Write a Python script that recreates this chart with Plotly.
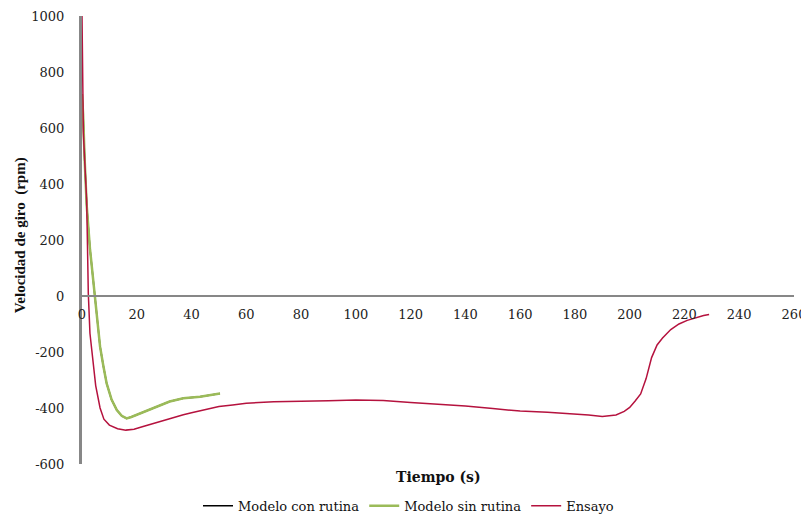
import plotly.graph_objects as go

# Ensayo (experimental) data
ensayo_t = [0, 0.2, 0.5, 1.0, 1.7, 2.0, 2.3, 2.9, 3.9, 5, 6.6, 8, 10, 13, 16, 19, 22, 25,
            28, 31, 34, 37, 40, 45, 50, 55, 60, 70, 80, 90, 100, 110, 120, 130, 140, 150,
            160, 170, 180, 185, 190, 195, 198, 200, 202, 204, 206, 208, 210, 212, 215, 218,
            221, 224, 227, 229]
ensayo_v = [1000, 800, 582, 480, 343, 180, 10, -133, -235, -320, -400, -440, -461,
            -474, -479, -476, -467, -458, -449, -440, -431, -424, -417, -406, -395, -389, -383,
            -378, -377, -374, -371, -373, -380, -386, -393, -402, -411, -415, -421, -425, -430,
            -425, -412, -398, -375, -350, -295, -220, -175, -150, -120, -100, -87, -78, -70, -66]

# Modelo sin rutina
sin_t = [0, 0.4, 1, 1.7, 2.9, 3.8, 4.7, 5.6, 6.6, 7.8, 9, 10.8, 12.7, 14.5, 16.3, 18, 21.2,
         25, 28.5, 32, 37, 43.1, 50.4]
sin_v = [720, 650, 480, 325, 170, 80, -2, -90, -181, -250, -312, -370, -407, -428, -437, -432,
         -419, -403, -389, -377, -365, -360, -348]

# Modelo con rutina (hidden beneath the green curve in the original)
con_t = sin_t
con_v = sin_v

x_ticks = list(range(0, 261, 20))
y_ticks = list(range(-600, 1001, 200))

font_family = "DejaVu Serif"

fig = go.Figure()
fig.add_trace(go.Scatter(x=con_t, y=con_v, mode="lines", name="Modelo con rutina",
                         line=dict(color="#000000", width=1.5)))
fig.add_trace(go.Scatter(x=sin_t, y=sin_v, mode="lines", name="Modelo sin rutina",
                         line=dict(color="#9BBB59", width=2.5)))
fig.add_trace(go.Scatter(x=ensayo_t, y=ensayo_v, mode="lines", name="Ensayo",
                         line=dict(color="#B5123E", width=1.5)))

# page body has an 8px margin, so the figure is sized 801x507
fig.update_layout(
    width=801, height=507,
    margin=dict(l=74, r=15, t=8, b=51, autoexpand=False),
    paper_bgcolor="white", plot_bgcolor="white",
    font=dict(family=font_family, size=13, color="#222222"),
    showlegend=True,
    legend=dict(orientation="h", x=0.5, xanchor="center", xref="container",
                y=0.018, yanchor="middle", yref="container",
                font=dict(family=font_family, size=13, color="#111111"),
                itemwidth=30, tracegroupgap=0),
    xaxis=dict(range=[0, 260], tickvals=x_ticks, ticktext=[str(v) for v in x_ticks],
               showgrid=False, zeroline=False, showline=True, linecolor="#878787",
               linewidth=2, anchor="free", position=0.375, ticks="",
               ticklabelstandoff=6, ticklabeloverflow="allow",
               tickfont=dict(size=13, color="#222222")),
    yaxis=dict(range=[-600, 1000], tickvals=y_ticks, ticktext=[str(v) for v in y_ticks],
               showgrid=False, zeroline=False, showline=True, linecolor="#878787",
               linewidth=3, ticks="", ticklabelstandoff=12,
               tickfont=dict(size=13, color="#222222")),
    annotations=[
        dict(text="<b>Tiempo (s)</b>", xref="paper", yref="paper", x=0.501, y=-0.03,
             xanchor="center", yanchor="middle", showarrow=False,
             font=dict(family=font_family, size=14, color="#111111")),
        dict(text="<b>Velocidad de giro  (rpm)</b>", xref="paper", yref="paper",
             x=-0.087, y=0.511, xanchor="center", yanchor="middle", textangle=-90,
             showarrow=False, font=dict(family="Liberation Serif", size=15, color="#111111")),
    ],
)

fig.write_html("out.html")
